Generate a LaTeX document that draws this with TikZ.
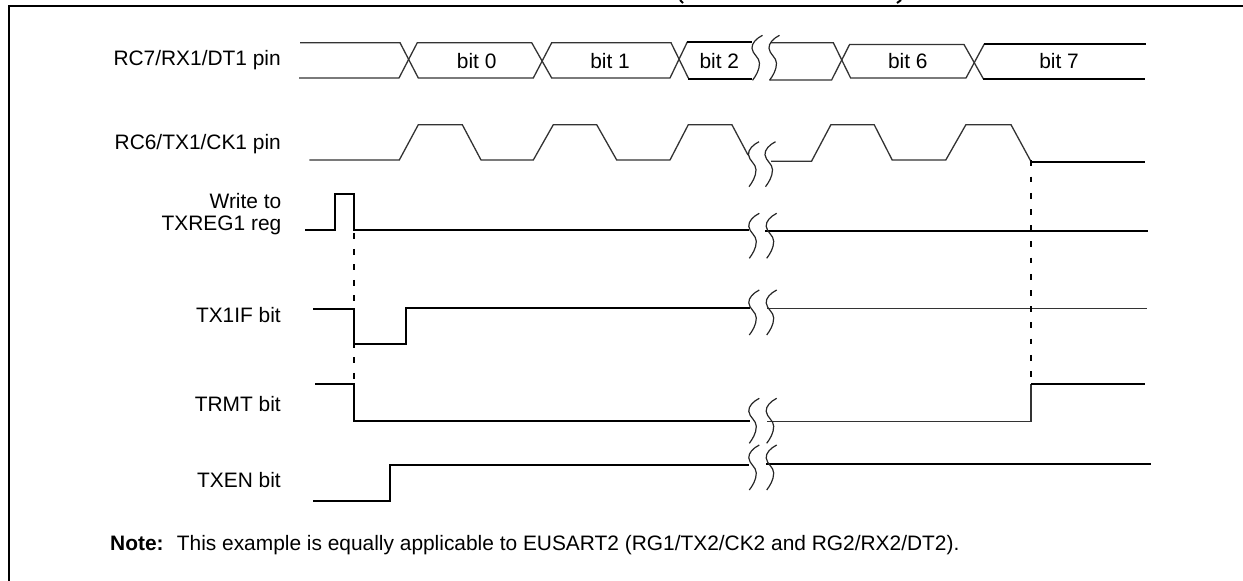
\documentclass[tikz,border=0pt]{standalone}
\usepackage{fontspec}
\setmainfont{Liberation Sans}
\tikzset{
  wire/.style={line width=1.3pt,draw=black!80,line join=miter},
  heavy/.style={line width=2.2pt,draw=black,line join=miter},
  frameline/.style={line width=2.4pt,draw=black},
  dashleft/.style={line width=2.2pt,draw=black,dash pattern=on 6pt off 9.5pt},
  dashright/.style={line width=2.2pt,draw=black,dash pattern=on 5.8pt off 10.4pt},
  waveline/.style={line width=1.2pt,draw=black!85},
  sig/.style={anchor=base east,inner sep=0pt,font=\fontsize{20.9}{25}\selectfont},
  bitlabel/.style={anchor=base,inner sep=0pt,font=\fontsize{20.9}{25}\selectfont},
  pics/brk/.style={code={
    \draw[waveline] (0,0) .. controls (-6,3) and (-11,8) .. (-10.5,13)
      .. controls (-10,19) and (-3,22) .. (-3,28)
      .. controls (-3,35) and (-7,41) .. (-10,45);
  }}
}
\begin{document}
\begin{tikzpicture}[x=1pt,y=-1pt]
\useasboundingbox (0,0) rectangle (1243,581);
% frame
\draw[frameline] (9,581) -- (9,5.7) -- (1243,5.7);
% clipped title remnants
\draw[line width=2pt] (680,0) -- (683,3);
\draw[line width=2pt] (901,0) -- (897,3);
% labels
\node[sig] (l1) at (281,65.7) {RC7/RX1/DT1 pin};
\node[sig] (l2) at (281,149.5) {RC6/TX1/CK1 pin};
\node[sig] (l3a) at (281.5,208.3) {Write to};
\node[sig] (l3b) at (281.5,230) {TXREG1 reg};
\node[sig] (l4) at (281,322.5) {TX1IF bit};
\node[sig] (l5) at (281,411.5) {TRMT bit};
\node[sig] (l6) at (281,487) {TXEN bit};
\node[bitlabel] (b0) at (476.7,68.3) {bit 0};
\node[bitlabel] (b1) at (610,68.3) {bit 1};
\node[bitlabel] (b2) at (719.3,68.3) {bit 2};
\node[bitlabel] (b6) at (907.8,68.3) {bit 6};
\node[bitlabel] (b7) at (1059,68.3) {bit 7};
\node[anchor=base west,inner sep=0pt,font=\fontsize{20.9}{25}\selectfont] (nt) at (110,550.7) {\textbf{Note:}};
\node[anchor=base west,inner sep=0pt,font=\fontsize{20.9}{25}\selectfont] (nb) at (176.7,550.7) {This example is equally applicable to EUSART2 (RG1/TX2/CK2 and RG2/RX2/DT2).};
% data row
\draw[wire] (300,42.7) -- (400,42.7) -- (418.3,78) -- (533.3,78) -- (551.7,42.7) -- (671,42.7) -- (688.3,78);
\draw[wire] (299,78) -- (399,78) -- (417.3,42.7) -- (531.7,42.7) -- (551.7,78) -- (670,78) -- (687.3,42);
\draw[heavy] (687.3,41.7) -- (751.7,41.7);
\draw[heavy] (688.3,79) -- (752,79);
\draw[wire] (771,42.7) -- (833.3,42.7) -- (850.6,78) -- (966,78) -- (984.3,44);
\draw[wire] (769.5,80) -- (831.6,80) -- (849.6,44.5) -- (964,44.5) -- (983.3,78.7);
\draw[heavy] (984.3,44) -- (1146,44);
\draw[heavy] (983.3,78.7) -- (1145,78.7);
% clock row
\draw[wire] (309.3,160) -- (399.3,160) -- (418.3,124.7) -- (462.3,124.7) -- (481,160) -- (533.3,160) -- (553.3,124.7) -- (596.7,124.7) -- (616.7,160) -- (670,160) -- (688.3,124.7) -- (731.9,124.7) -- (748,155);
\draw[wire] (771,161.3) -- (811.5,161.3) -- (830.9,124.7) -- (874.2,124.7) -- (892.2,160) -- (945.8,160) -- (965.9,124.7) -- (1011,124.7) -- (1030.7,161);
\draw[heavy] (1030.7,161.7) -- (1145,161.7);
% write row
\draw[heavy] (305,230) -- (335,230) -- (335,194) -- (354,194) -- (354,230) -- (749,230);
\draw[heavy] (765,230.7) -- (1148,230.7);
% TX1IF row
\draw[heavy] (313.3,308.7) -- (354,308.7) -- (354,343.7) -- (406,343.7) -- (406,307.7) -- (750,307.7);
\draw[wire] (767,308.5) -- (1146.7,308.5);
% TRMT row
\draw[heavy] (315,383.7) -- (354,383.7) -- (354,420.7) -- (750,420.7);
\draw[wire] (767,421.7) -- (1031,421.7) -- (1031,384);
\draw[heavy] (1031,384) -- (1145,384);
% TXEN row
\draw[heavy] (313.3,501) -- (390,501) -- (390,465) -- (749,465);
\draw[heavy] (766,464) -- (1151,464);
% dashed markers
\draw[dashleft] (354,233.3) -- (354,383.7);
\draw[dashright] (1031,160.4) -- (1031,384);
% breaks
\foreach \xa/\xb/\yt in {762.5/779.5/35.3, 759/775.5/141.7, 759.3/776.7/213.3, 759.3/776.7/290, 759.3/776.7/398.3, 759.3/776.7/445}{
  \pic at (\xa,\yt) {brk};
  \pic at (\xb,\yt) {brk};
}
\end{tikzpicture}
\end{document}
